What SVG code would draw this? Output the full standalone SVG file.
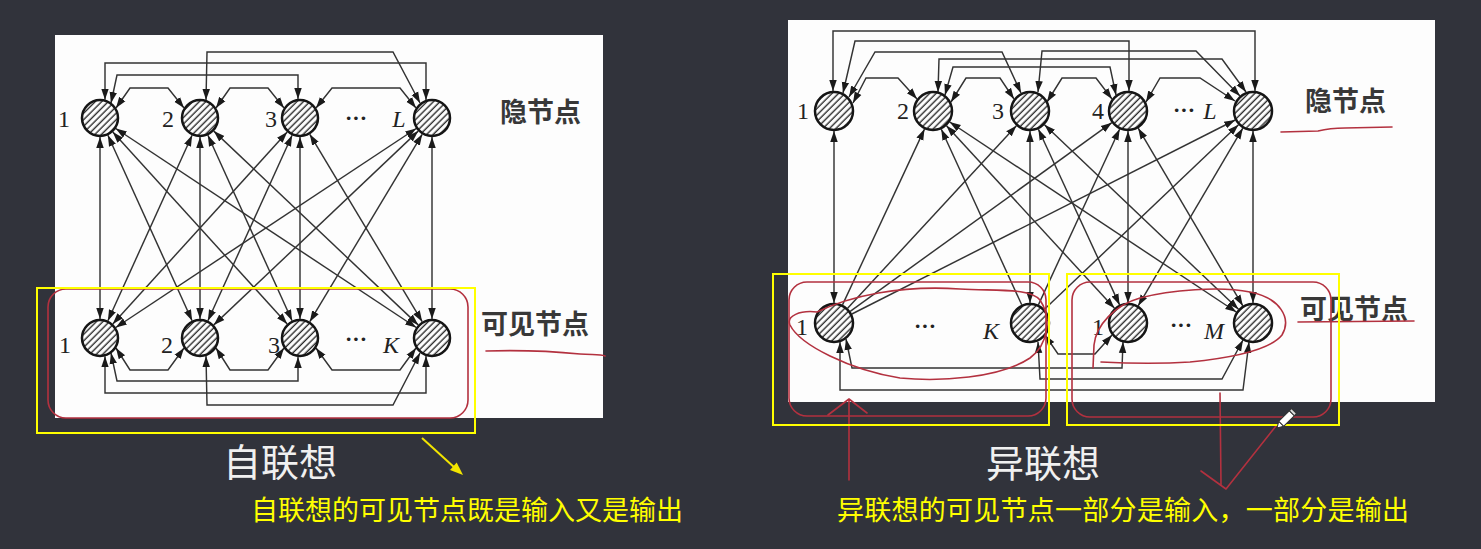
<svg xmlns="http://www.w3.org/2000/svg" width="1481" height="549" viewBox="0 0 1481 549">
<defs>
<pattern id="hatch" width="4.6" height="10" patternUnits="userSpaceOnUse" patternTransform="rotate(45)">
<rect width="4.6" height="10" fill="#fff"/>
<line x1="1.2" y1="0" x2="1.2" y2="10" stroke="#2a2a2a" stroke-width="1.4"/>
</pattern>
<marker id="ah" viewBox="0 0 10 10" refX="10" refY="5" markerWidth="11" markerHeight="11" markerUnits="userSpaceOnUse" orient="auto-start-reverse">
<path d="M0,1.6 L10,5 L0,8.4 Z" fill="#1a1a1a"/>
</marker>
</defs>
<style>
.bg{fill:#31333b}
.panel{fill:#fdfdfd}
.node{fill:url(#hatch);stroke:#151515;stroke-width:2.5}
.c{fill:none;stroke:#333;stroke-width:1.45}
.ab{marker-start:url(#ah);marker-end:url(#ah)}
.ae{marker-end:url(#ah)}
.num{font-family:'Liberation Serif',serif;font-size:24px;fill:#222;text-anchor:middle}
.it{font-style:italic;font-size:24px}
.dots{font-family:'Liberation Serif',serif;font-size:22px;font-weight:bold;fill:#222;text-anchor:middle}
.cn{font-family:'Noto Sans CJK SC',sans-serif;font-weight:700;font-size:27px;fill:#383838}
.red{fill:none;stroke:#b3313f;stroke-width:1.6;stroke-linecap:round;stroke-linejoin:round}
.yel{fill:none;stroke:#ffff00;stroke-width:2}
.title{font-family:'Noto Sans CJK SC',sans-serif;font-size:38px;fill:#f0f0f0}
.note{font-family:'Noto Sans CJK SC',sans-serif;font-size:27px;fill:#ffff00}
</style>
<rect class="bg" x="0" y="0" width="1481" height="549"/>
<rect class="panel" x="55" y="35" width="548" height="383"/>
<rect class="panel" x="788" y="20" width="647" height="382"/>

<!-- LEFT connectors -->
<g id="left-connectors">
<line class="c ab" x1="100" y1="137" x2="100" y2="319"/>
<line class="c ab" x1="200" y1="137" x2="200" y2="319"/>
<line class="c ab" x1="300" y1="137" x2="300" y2="319"/>
<line class="c ab" x1="432" y1="137" x2="432" y2="319"/>
<line class="c ab" x1="107.9" y1="135.3" x2="192.1" y2="320.7"/>
<line class="c ab" x1="112.8" y1="132.1" x2="287.2" y2="323.9"/>
<line class="c ab" x1="115.8" y1="128.5" x2="416.2" y2="327.5"/>
<line class="c ab" x1="192.1" y1="135.3" x2="107.9" y2="320.7"/>
<line class="c ab" x1="207.9" y1="135.3" x2="292.1" y2="320.7"/>
<line class="c ab" x1="213.8" y1="131.1" x2="418.2" y2="324.9"/>
<line class="c ab" x1="287.2" y1="132.1" x2="112.8" y2="323.9"/>
<line class="c ab" x1="292.1" y1="135.3" x2="207.9" y2="320.7"/>
<line class="c ab" x1="309.8" y1="134.3" x2="422.2" y2="321.7"/>
<line class="c ab" x1="416.2" y1="128.5" x2="115.8" y2="327.5"/>
<line class="c ab" x1="418.2" y1="131.1" x2="213.8" y2="324.9"/>
<line class="c ab" x1="422.2" y1="134.3" x2="309.8" y2="321.7"/>
<path class="c ab" d="M105,99.7 L105,63 L426,63 L426,100"/>
<path class="c ab" d="M111,103 L117,75 L298,75 L298,99"/>
<path class="c ab" d="M206,100 L207,52 L393,52 L420,103"/>
<path class="c ab" d="M116,108 L130,88 L168,88 L184,108"/>
<path class="c ab" d="M216,108 L230,88 L268,88 L284,108"/>
<path class="c ab" d="M316,108 L332,88 L400,88 L416,108"/>
<path class="c ab" d="M116,348 L130,370 L168,370 L184,348"/>
<path class="c ab" d="M216,348 L230,370 L268,370 L284,348"/>
<path class="c ab" d="M316,348 L332,370 L400,370 L416,348"/>
<path class="c ab" d="M111,353 L117,381 L298,381 L298,357"/>
<path class="c ab" d="M105,356.3 L105,393 L426,393 L426,356"/>
<path class="c ab" d="M206,356 L207,405 L393,405 L420,353"/>
</g>

<!-- LEFT nodes -->
<g id="L-h1"><circle class="node" cx="100" cy="118" r="18"/><text class="num" x="64" y="127">1</text></g>
<g id="L-h2"><circle class="node" cx="200" cy="118" r="18"/><text class="num" x="168" y="127">2</text></g>
<g id="L-h3"><circle class="node" cx="300" cy="118" r="18"/><text class="num" x="271" y="127">3</text></g>
<g id="L-hL"><circle class="node" cx="432" cy="118" r="18"/><text class="dots" x="356" y="125">···</text><text class="num it" x="399" y="127">L</text></g>
<g id="L-v1"><circle class="node" cx="100" cy="338" r="18"/><text class="num" x="65" y="353">1</text></g>
<g id="L-v2"><circle class="node" cx="200" cy="338" r="18"/><text class="num" x="167" y="353">2</text></g>
<g id="L-v3"><circle class="node" cx="300" cy="338" r="18"/><text class="num" x="274" y="353">3</text></g>
<g id="L-vK"><circle class="node" cx="432" cy="338" r="18"/><text class="dots" x="356" y="346">···</text><text class="num it" x="391" y="353">K</text></g>
<text class="cn" x="500" y="122">隐节点</text>
<text class="cn" x="481" y="334" font-size="28">可见节点</text>

<!-- RIGHT connectors -->
<g id="right-connectors">
<line class="c ab" x1="834" y1="131" x2="834" y2="303"/>
<line class="c ab" x1="1030" y1="131" x2="1030" y2="303"/>
<line class="c ab" x1="1128" y1="131" x2="1128" y2="303"/>
<line class="c ab" x1="1253" y1="131" x2="1253" y2="303"/>
<line class="c ae" x1="842.5" y1="304.9" x2="924.5" y2="129.1"/>
<line class="c ae" x1="847.6" y1="308.3" x2="1016.4" y2="125.7"/>
<line class="c ae" x1="850.2" y1="311.3" x2="1111.8" y2="122.7"/>
<line class="c ae" x1="851.9" y1="314" x2="1235.2" y2="120"/>
<line class="c ae" x1="1021.7" y1="304.8" x2="941.3" y2="129.2"/>
<line class="c ae" x1="1038.4" y1="304.9" x2="1119.6" y2="129.2"/>
<line class="c ae" x1="1044.5" y1="309.2" x2="1238.5" y2="124.8"/>
<line class="c ab" x1="1114.5" y1="308.3" x2="946.5" y2="125.7"/>
<line class="c ab" x1="1119.6" y1="304.9" x2="1038.4" y2="129.2"/>
<line class="c ab" x1="1138.2" y1="305.8" x2="1242.8" y2="128.2"/>
<line class="c ab" x1="1236.3" y1="312" x2="949.7" y2="122"/>
<line class="c ab" x1="1238.5" y1="309.2" x2="1044.5" y2="124.8"/>
<line class="c ab" x1="1242.8" y1="305.8" x2="1138.2" y2="128.2"/>
<path class="c ab" d="M833,91 L833,31 L1255,31 L1255,91"/>
<path class="c ab" d="M843,93 L855,41 L1129,41 L1129,91"/>
<path class="c ab" d="M849,97 L875,52 L1002,52 L1021,93"/>
<path class="c ab" d="M1038,92 L1042,51 L1196,51 L1240,96"/>
<path class="c ab" d="M938,92 L939,59 L1222,59 L1246,92"/>
<path class="c ab" d="M945,95 L953,67 L1110,67 L1116,95"/>
<path class="c ab" d="M853,103 L866,78 L898,78 L917,99"/>
<path class="c ab" d="M951,102 L966,78 L1000,78 L1014,99"/>
<path class="c ab" d="M1047,102 L1062,78 L1096,78 L1112,99"/>
<path class="c ab" d="M1146,102 L1160,78 L1200,78 L1235,101"/>
<path class="c ab" d="M846,339 L852,368 L1122,368 L1123,342"/>
<path class="c ab" d="M840,342 L840,390 L1243,390 L1249,342"/>
<path class="c ab" d="M1045,335 L1058,354 L1095,354 L1112,335"/>
<path class="c ab" d="M1038,342 L1040,379 L1222,379 L1243,340"/>
</g>

<!-- RIGHT nodes -->
<g id="R-h1"><circle class="node" cx="834" cy="111" r="19"/><text class="num" x="803" y="119">1</text></g>
<g id="R-h2"><circle class="node" cx="933" cy="111" r="19"/><text class="num" x="903" y="119">2</text></g>
<g id="R-h3"><circle class="node" cx="1030" cy="111" r="19"/><text class="num" x="998" y="119">3</text></g>
<g id="R-h4"><circle class="node" cx="1128" cy="111" r="19"/><text class="num" x="1098" y="119">4</text></g>
<g id="R-hL"><circle class="node" cx="1253" cy="111" r="19"/><text class="dots" x="1184" y="117">···</text><text class="num it" x="1210" y="119">L</text></g>
<g id="R-v1"><circle class="node" cx="834" cy="323" r="19"/><text class="num" x="802" y="335">1</text></g>
<g id="R-vK"><circle class="node" cx="1030" cy="323" r="19"/><text class="dots" x="925" y="333">···</text><text class="num it" x="991" y="339">K</text></g>
<g id="R-w1"><circle class="node" cx="1128" cy="323" r="19"/><text class="num" x="1098" y="335">1</text></g>
<g id="R-wM"><circle class="node" cx="1253" cy="323" r="19"/><text class="dots" x="1181" y="332">···</text><text class="num it" x="1214" y="339">M</text></g>
<text class="cn" x="1305" y="111">隐节点</text>
<text class="cn" x="1300" y="319" font-size="28">可见节点</text>

<!-- annotations -->
<g id="annotations">
<rect class="red" x="48" y="289" width="420" height="129" rx="18"/>
<path class="red" d="M486,351 C520,350 560,352 580,354 C592,355 600,354 605,356"/>
<rect class="yel" x="37" y="288" width="438" height="145"/>
<line x1="422" y1="438" x2="455" y2="468" stroke="#f2e500" stroke-width="2"/>
<polygon points="463,475 456.7,462.6 450,470" fill="#f2e500"/>

<path class="red" d="M1281,132 L1318,131 Q1330,128 1345,128 L1392,127"/>
<path class="red" d="M1298,322 L1414,321"/>
<rect class="red" x="789" y="282" width="257" height="134" rx="18"/>
<rect class="red" x="1072" y="282" width="259" height="135" rx="18"/>
<path class="red" d="M817,312 C850,296 900,285 960,289 C1000,291 1030,288 1040,300 C1052,318 1048,345 1030,358 C1000,378 940,382 900,378 C850,370 800,345 790,325 C786,316 800,310 817,312"/>
<path class="red" d="M1093,368 L1094,345 C1096,325 1115,305 1140,298 C1170,290 1220,286 1250,292 C1280,298 1292,318 1282,335 C1270,350 1230,358 1190,362 C1160,364 1120,363 1101,362"/>
<path class="red" d="M849,480 L849,400 M828,415 L849,399 L867,413"/>
<path class="red" d="M1220,393 L1221,485 M1201,471 L1226,489 L1276,426"/>
<rect class="yel" x="773" y="274" width="276" height="151"/>
<rect class="yel" x="1067" y="274" width="272" height="151"/>
<g transform="translate(1277,428) rotate(-45)">
<polygon points="0,0 6,-3.5 6,3.5" fill="#fff" stroke="#333" stroke-width="1"/>
<rect x="6" y="-3.5" width="15" height="7" fill="#fff" stroke="#333" stroke-width="1"/>
<rect x="21" y="-3.5" width="3" height="7" fill="#ddd" stroke="#333" stroke-width="1"/>
</g>
</g>

<text class="title" x="223" y="476">自联想</text>
<text class="note" x="251" y="520" textLength="432">自联想的可见节点既是输入又是输出</text>
<text class="title" x="986" y="477">异联想</text>
<text class="note" x="837" y="520" textLength="572">异联想的可见节点一部分是输入，一部分是输出</text>
</svg>
